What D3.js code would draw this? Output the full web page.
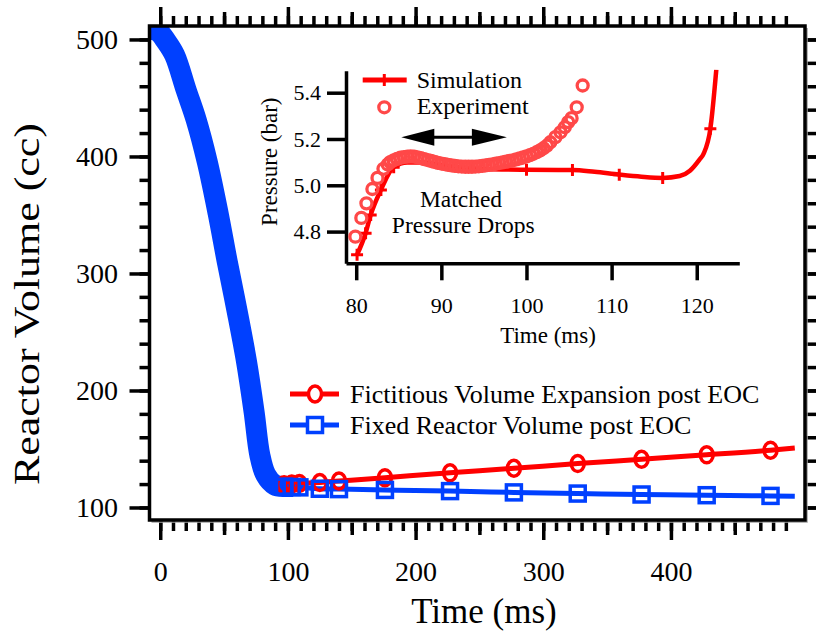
<!DOCTYPE html>
<html>
<head>
<meta charset="utf-8">
<script src="https://cdn.jsdelivr.net/npm/d3@7"></script>
<style>
  body { margin: 0; background: #fff; }
  svg, svg text { font-family: "Liberation Serif", "Times New Roman", serif; }
</style>
</head>
<body>
<script>
// ---- main chart data: compression stroke (blue band), then post-EOC
var compTime   = [-9, -4, -0.5, 4, 11.2, 20.3, 28.2, 36.8, 45.3, 52.5, 60.3, 67.6, 73.5, 78, 82.7, 89.8, 96];
var compVolume = [508.5, 508, 505.8, 499.5, 486.8, 456.8, 431.2, 395.6, 351.7, 310, 267.4, 224.6, 181.9, 144.9, 127.8, 119.2, 118];

var postTime     = [97, 103, 109, 125, 140, 176, 227, 277, 327, 377, 428, 478, 497];
var expandVolume = [119.5, 120, 120.4, 121.4, 122.6, 125.5, 129.6, 133.5, 137.5, 141.2, 145, 149, 150.8];
var fixedVolume  = [117.8, 117.5, 117.2, 116, 115.7, 115, 114, 112.9, 111.9, 111.1, 110.5, 109.9, 109.7];

var xMajor = [0, 100, 200, 300, 400];
var yMajor = [100, 200, 300, 400, 500];
var legendNames = ["Fictitious Volume Expansion post EOC", "Fixed Reactor Volume post EOC"];

// ---- inset data: pressure near end of compression
var simTime     = [80.1, 81.1, 81.7, 82.9, 84.4, 86, 88, 90, 92.5, 95, 100, 105.4, 108, 110.9, 113.5, 116, 118, 119.2, 120.3, 120.8, 121.6, 122.3];
var simPressure = [4.70, 4.793, 4.872, 4.98, 5.078, 5.098, 5.098, 5.088, 5.077, 5.070, 5.067, 5.066, 5.058, 5.046, 5.037, 5.032, 5.04, 5.063, 5.11, 5.136, 5.244, 5.5];
var simMarkTime     = [80.1, 81.1, 81.7, 82.9, 84.4, 100, 105.4, 110.9, 116, 121.6];
var simMarkPressure = [4.70, 4.793, 4.872, 4.98, 5.078, 5.067, 5.066, 5.046, 5.032, 5.244];

var expTime = [79.9, 80.6, 81.2, 81.9, 82.5, 83.2, 83.7, 84.0, 84.4, 84.8, 85.2, 85.6, 86.0, 86.4, 86.8,
  87.2, 87.6, 88.0, 88.4, 88.8, 89.2, 89.6, 90.0, 90.4, 90.8, 91.2, 91.6, 92.0, 92.4, 92.8, 93.2,
  93.6, 94.0, 94.4, 94.8, 95.2, 95.6, 96.0, 96.4, 96.8, 97.2, 97.6, 98.0, 98.4, 98.8, 99.2, 99.6,
  100.0, 100.4, 100.8, 101.2, 101.6, 102.0, 102.4, 102.8, 103.4, 104.0, 104.5, 104.9, 105.3, 105.9, 106.6];
var expPressure = [4.778, 4.859, 4.922, 4.984, 5.032, 5.071, 5.090, 5.100, 5.108, 5.114, 5.119, 5.122, 5.124, 5.125, 5.124,
  5.121, 5.117, 5.113, 5.109, 5.105, 5.101, 5.097, 5.094, 5.091, 5.088, 5.086, 5.084, 5.082, 5.081, 5.080, 5.080,
  5.080, 5.081, 5.082, 5.084, 5.086, 5.088, 5.090, 5.093, 5.096, 5.099, 5.102, 5.105, 5.108, 5.112, 5.116, 5.120,
  5.125, 5.130, 5.136, 5.143, 5.151, 5.160, 5.171, 5.186, 5.208, 5.229, 5.251, 5.273, 5.290, 5.337, 5.431];

var insetXTicks = [80, 90, 100, 110, 120];
var insetYTicks = [4.8, 5.0, 5.2, 5.4];

var RED = "#ff0000", BLUE = "#0040ff", EXP = "#ff4848";

var svg = d3.select("body").append("svg").attr("width", 816).attr("height", 635);

// ---------------- main axes ----------------
var frame = { left: 149.5, right: 805, top: 26, bottom: 520 };
var x = d3.scaleLinear().domain([-8.4, 505]).range([frame.left, frame.right]);
var y = d3.scaleLinear().domain([89.3, 511.5]).range([frame.bottom, frame.top]);

var xMinor = d3.range(0, 500, 10);
var xMid = d3.range(50, 500, 100);
var yMinor = d3.range(100, 501, 20);

// d3 axes put sans-serif on the group; drop it so the serif from the css is used
function styleAxis(g) {
  g.attr("font-family", null).attr("font-size", null);
  g.select(".domain").remove();
  g.selectAll(".tick line").attr("stroke", "#000").attr("stroke-width", 3.5);
  g.selectAll("text").attr("fill", "#000");
}

// bottom
[[xMinor, 11], [xMid, 15], [xMajor, 20]].forEach(function(s) {
  svg.append("g").attr("transform", "translate(0," + frame.bottom + ")")
    .call(d3.axisBottom(x).tickValues(s[0]).tickSize(s[1]).tickFormat(""))
    .call(styleAxis);
});
svg.append("g").attr("transform", "translate(0," + frame.bottom + ")")
  .call(d3.axisBottom(x).tickValues(xMajor).tickSize(0).tickFormat(d3.format("d")))
  .call(styleAxis)
  .selectAll("text").attr("dy", null).attr("y", 61).attr("font-size", 28);

// top
[[xMinor, 10], [xMid, 14], [xMajor, 19]].forEach(function(s) {
  svg.append("g").attr("transform", "translate(0," + frame.top + ")")
    .call(d3.axisTop(x).tickValues(s[0]).tickSize(s[1]).tickFormat(""))
    .call(styleAxis);
});

// left
svg.append("g").attr("transform", "translate(" + frame.left + ",0)")
  .call(d3.axisLeft(y).tickValues(yMinor).tickSize(10).tickFormat(""))
  .call(styleAxis);
svg.append("g").attr("transform", "translate(" + frame.left + ",0)")
  .call(d3.axisLeft(y).tickValues(yMajor).tickSize(20).tickPadding(11.5).tickFormat(d3.format("d")))
  .call(styleAxis)
  .selectAll("text").attr("font-size", 28).attr("dy", "0.33em");

// right
svg.append("g").attr("transform", "translate(" + frame.right + ",0)")
  .call(d3.axisRight(y).tickValues(yMinor).tickSize(11).tickFormat(""))
  .call(styleAxis);
svg.append("g").attr("transform", "translate(" + frame.right + ",0)")
  .call(d3.axisRight(y).tickValues(yMajor).tickSize(20).tickFormat(""))
  .call(styleAxis);

// axis titles
svg.append("text")
  .attr("x", 484).attr("y", 623)
  .attr("text-anchor", "middle").attr("font-size", 35)
  .text("Time (ms)");
svg.append("text")
  .attr("transform", "translate(39,304) rotate(-90)")
  .attr("text-anchor", "middle").attr("font-size", 36)
  .attr("textLength", 362).attr("lengthAdjust", "spacingAndGlyphs")
  .text("Reactor Volume (cc)");

// ---------------- main series ----------------
svg.append("clipPath").attr("id", "clipMain")
  .append("rect")
  .attr("x", frame.left).attr("y", frame.top)
  .attr("width", frame.right - frame.left).attr("height", frame.bottom - frame.top);

var plot = svg.append("g").attr("clip-path", "url(#clipMain)");

var comp = compTime.map(function(t, i) { return { t: t, v: compVolume[i] }; });
var expand = postTime.map(function(t, i) { return { t: t, v: expandVolume[i] }; });
var fixed = postTime.map(function(t, i) { return { t: t, v: fixedVolume[i] }; });

var line = d3.line()
  .x(function(d) { return x(d.t); })
  .y(function(d) { return y(d.v); })
  .curve(d3.curveMonotoneX);

// dense markers of the compression stroke merge into a thick band
plot.append("path").datum(comp)
  .attr("d", line.curve(d3.curveCatmullRom.alpha(0.5))).attr("fill", "none")
  .attr("stroke", BLUE).attr("stroke-width", 21)
  .attr("stroke-linejoin", "round").attr("stroke-linecap", "square");
line.curve(d3.curveMonotoneX);

plot.append("path").datum(expand)
  .attr("d", line).attr("fill", "none")
  .attr("stroke", RED).attr("stroke-width", 5);
plot.append("path").datum(fixed)
  .attr("d", line).attr("fill", "none")
  .attr("stroke", BLUE).attr("stroke-width", 5);

// the last point only ends the line, it has no marker
plot.selectAll(".expMark").data(expand.slice(0, -1)).enter()
  .append("ellipse")
  .attr("cx", function(d) { return x(d.t); })
  .attr("cy", function(d) { return y(d.v); })
  .attr("rx", 6.5).attr("ry", 8)
  .attr("fill", "none").attr("stroke", RED).attr("stroke-width", 3.5);

plot.selectAll(".fixMark").data(fixed.slice(0, -1)).enter()
  .append("rect")
  .attr("x", function(d) { return x(d.t) - 7.5; })
  .attr("y", function(d) { return y(d.v) - 7.5; })
  .attr("width", 15).attr("height", 15)
  .attr("fill", "none").attr("stroke", BLUE).attr("stroke-width", 3.5);

// frame
svg.append("path")
  .attr("d", "M" + (frame.right + 2) + "," + (frame.top + 2) + "V" + (frame.bottom + 2) + "H" + (frame.left + 2))
  .attr("fill", "none").attr("stroke", "#a0a0a0").attr("stroke-width", 1.5);
svg.append("rect")
  .attr("x", frame.left).attr("y", frame.top)
  .attr("width", frame.right - frame.left).attr("height", frame.bottom - frame.top)
  .attr("fill", "none").attr("stroke", "#000").attr("stroke-width", 3.5);

// legend
var legend = svg.append("g");
legendNames.forEach(function(name, i) {
  var ly = 394 + i * 31;
  var col = i === 0 ? RED : BLUE;
  legend.append("line").attr("x1", 290).attr("x2", 339).attr("y1", ly).attr("y2", ly)
    .attr("stroke", col).attr("stroke-width", 5);
  if (i === 0) {
    legend.append("ellipse").attr("cx", 315).attr("cy", ly).attr("rx", 6.5).attr("ry", 8)
      .attr("fill", "#fff").attr("stroke", col).attr("stroke-width", 3.5);
  } else {
    legend.append("rect").attr("x", 307.5).attr("y", ly - 7.5).attr("width", 15).attr("height", 15)
      .attr("fill", "#fff").attr("stroke", col).attr("stroke-width", 3.5);
  }
  legend.append("text").attr("x", 350).attr("y", ly + 8.5)
    .attr("font-size", 26).text(name);
});

// ---------------- inset ----------------
var ib = { left: 346, right: 739.3, top: 70.7, bottom: 263.3 };
var ix = d3.scaleLinear().domain([78.8, 125]).range([ib.left, ib.right]);
var iy = d3.scaleLinear().domain([4.663, 5.495]).range([ib.bottom, ib.top]);

function styleInset(g) {
  g.attr("font-family", null).attr("font-size", null);
  g.select(".domain").attr("stroke", "#000").attr("stroke-width", 3.5);
  g.selectAll(".tick line").attr("stroke", "#000").attr("stroke-width", 3.5);
  g.selectAll("text").attr("fill", "#000").attr("font-size", 22);
}

svg.append("g").attr("transform", "translate(0," + ib.bottom + ")")
  .call(d3.axisBottom(ix).tickValues(insetXTicks).tickSize(17).tickSizeOuter(0).tickFormat(d3.format("d")))
  .call(styleInset)
  .selectAll("text").attr("dy", null).attr("y", 50);

svg.append("g").attr("transform", "translate(" + ib.left + ",0)")
  .call(d3.axisLeft(iy).tickValues(insetYTicks).tickSize(19).tickSizeOuter(0).tickPadding(6).tickFormat(d3.format(".1f")))
  .call(styleInset)
  .selectAll("text").attr("dy", "0.33em");

svg.append("text")
  .attr("x", 548).attr("y", 343)
  .attr("text-anchor", "middle").attr("font-size", 23)
  .text("Time (ms)");
svg.append("text")
  .attr("transform", "translate(276.7,161.7) rotate(-90)")
  .attr("text-anchor", "middle").attr("font-size", 23)
  .text("Pressure (bar)");

svg.append("clipPath").attr("id", "clipInset")
  .append("rect").attr("x", ib.left).attr("y", ib.top - 1)
  .attr("width", ib.right - ib.left).attr("height", ib.bottom - ib.top);

var ip = svg.append("g").attr("clip-path", "url(#clipInset)");

var iline = d3.line()
  .x(function(d) { return ix(d.t); })
  .y(function(d) { return iy(d.p); })
  .curve(d3.curveMonotoneX);

var sim = simTime.map(function(t, i) { return { t: t, p: simPressure[i] }; });
var simMarks = simMarkTime.map(function(t, i) { return { t: t, p: simMarkPressure[i] }; });
var exper = expTime.map(function(t, i) { return { t: t, p: expPressure[i] }; });

ip.append("path").datum(sim)
  .attr("d", iline).attr("fill", "none")
  .attr("stroke", RED).attr("stroke-width", 4.5);

function plus(sel, cx, cy) {
  sel.append("path")
    .attr("d", "M" + (cx - 6) + "," + cy + "h12M" + cx + "," + (cy - 6) + "v12")
    .attr("stroke", RED).attr("stroke-width", 3);
}
simMarks.forEach(function(d) { plus(ip, ix(d.t), iy(d.p)); });

ip.selectAll(".expPt").data(exper).enter()
  .append("circle")
  .attr("cx", function(d) { return ix(d.t); })
  .attr("cy", function(d) { return iy(d.p); })
  .attr("r", 5.5)
  .attr("fill", "none").attr("stroke", EXP).attr("stroke-width", 3.3);

// inset legend
svg.append("line").attr("x1", 362.7).attr("x2", 406.7).attr("y1", 80).attr("y2", 80)
  .attr("stroke", RED).attr("stroke-width", 5);
plus(svg, 384.3, 80);
svg.append("circle").attr("cx", 384.3).attr("cy", 107.3).attr("r", 5.5)
  .attr("fill", "none").attr("stroke", EXP).attr("stroke-width", 3.3);
svg.append("text").attr("x", 416.7).attr("y", 88).attr("font-size", 24).text("Simulation");
svg.append("text").attr("x", 416.7).attr("y", 114).attr("font-size", 24).text("Experiment");

// matched-region arrow
var arrowFrom = 85.3, arrowTo = 97.7, arrowP = 5.207;
var ax1 = ix(arrowFrom), ax2 = ix(arrowTo), ay = iy(arrowP);
svg.append("line").attr("x1", ax1 + 20).attr("x2", ax2 - 20).attr("y1", ay).attr("y2", ay)
  .attr("stroke", "#000").attr("stroke-width", 3);
svg.append("path")
  .attr("d", "M" + ax1 + "," + ay + "l33,-8.5v17z")
  .attr("fill", "#000");
svg.append("path")
  .attr("d", "M" + ax2 + "," + ay + "l-35,-8.5v17z")
  .attr("fill", "#000");

svg.append("text").attr("x", 461).attr("y", 206.5)
  .attr("text-anchor", "middle").attr("font-size", 23.5).text("Matched");
svg.append("text").attr("x", 463.3).attr("y", 233)
  .attr("text-anchor", "middle").attr("font-size", 23.5).text("Pressure Drops");
</script>
</body>
</html>
